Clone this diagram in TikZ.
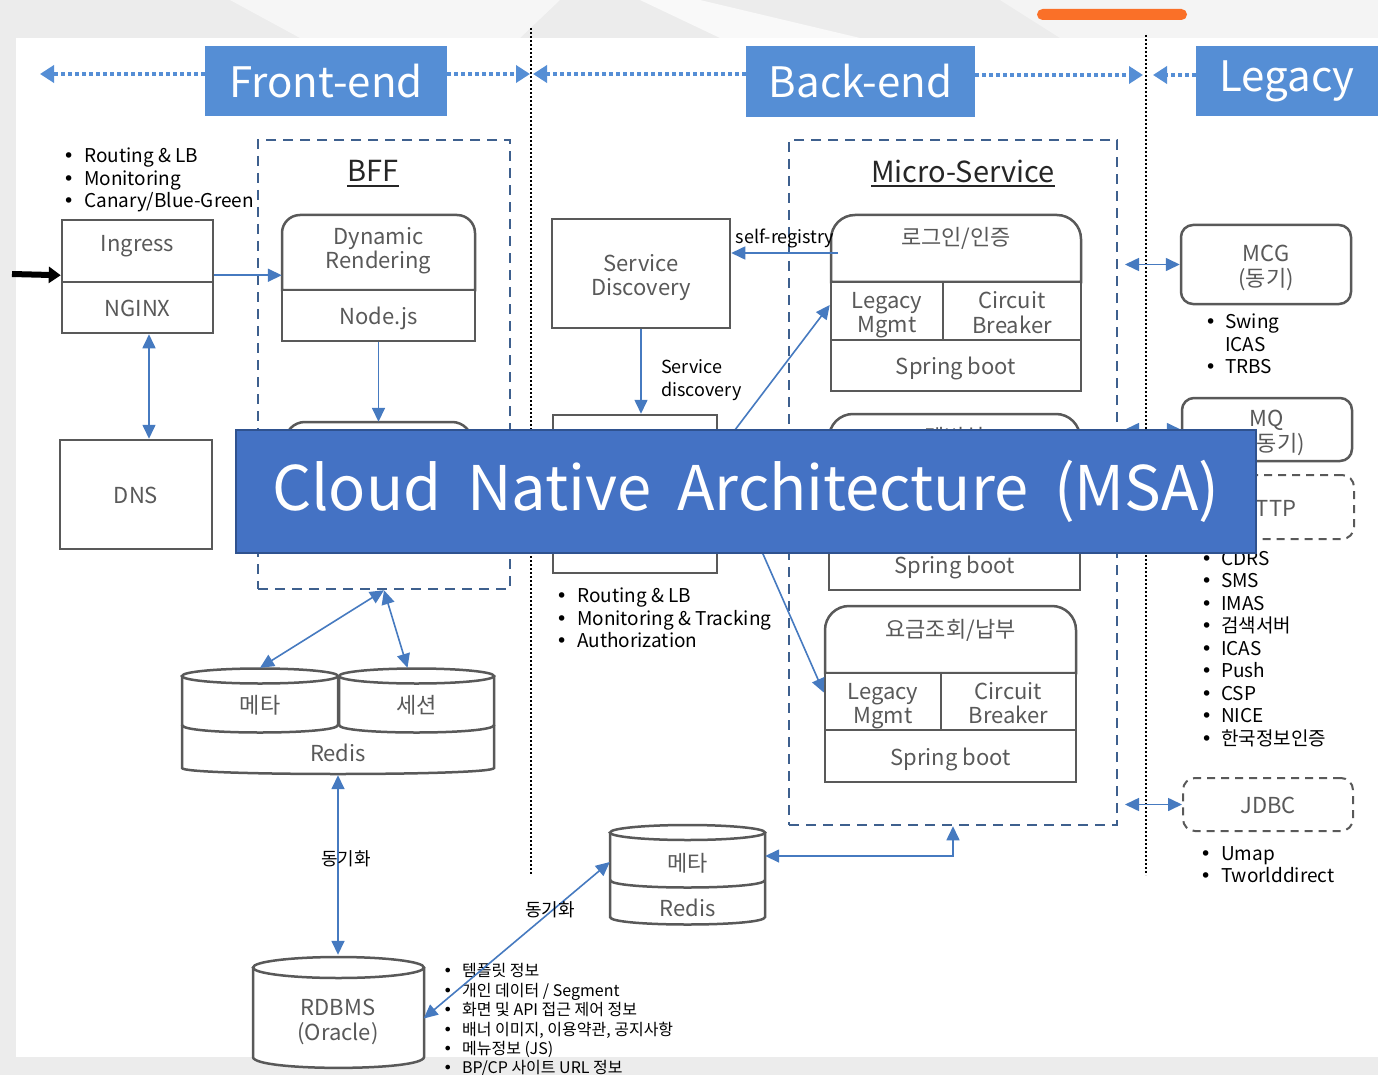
\documentclass[tikz,border=0pt]{standalone}
\usepackage{fontspec}
\setmainfont{Noto Sans CJK KR}
\newfontfamily\bulletfont{DejaVu Sans}
\usetikzlibrary{arrows.meta,calc}

\definecolor{hdrblue}{RGB}{85,142,213}
\definecolor{bannerblue}{RGB}{68,114,196}
\definecolor{bannerline}{RGB}{47,82,143}
\definecolor{linkblue}{RGB}{70,122,192}
\definecolor{dashblue}{RGB}{62,96,142}
\definecolor{boxgray}{RGB}{89,89,89}
\definecolor{txtgray}{RGB}{89,89,89}
\definecolor{titlegray}{RGB}{38,38,38}
\definecolor{orangebar}{RGB}{250,112,40}
\definecolor{slidebg}{RGB}{236,236,236}

\newcommand\fsBox{\fontsize{22pt}{24pt}\selectfont}
\newcommand\fsHead{\fontsize{42pt}{44pt}\selectfont}
\newcommand\fsBanner{\fontsize{61.5pt}{66pt}\selectfont\spaceskip=0.42em\relax}
\newcommand\fsTitle{\fontsize{29pt}{32pt}\selectfont}
\newcommand\fsNote{\fontsize{19pt}{22.5pt}\selectfont}
\newcommand\fsSmall{\fontsize{16pt}{19.4pt}\selectfont}
\newcommand\fsLbl{\fontsize{18pt}{23pt}\selectfont}
\newcommand\bul[1][16pt]{\makebox[#1][l]{{\bulletfont •}}}
% two centred lines, inked a little lower than their box
\newcommand\twoline[2]{\raisebox{-5pt}[\height][\depth]{\begin{tabular}{@{}c@{}}#1\\#2\end{tabular}}}

% box with rounded top corners: x1, ytop, x2, ybottom, radius
\newcommand\rtopbox[5]{%
  \draw[dline,fill=white] (#1,#4) -- (#1,{#2+#5})
    .. controls (#1,{#2+0.448*#5}) and ({#1+0.448*#5},#2) .. ({#1+#5},#2)
    -- ({#3-#5},#2)
    .. controls ({#3-0.448*#5},#2) and (#3,{#2+0.448*#5}) .. (#3,{#2+#5})
    -- (#3,#4) -- cycle;}

\begin{document}
\begin{tikzpicture}[x=1pt,y=-1pt,
  dline/.style={draw=boxgray,line width=2.5pt},
  dbox/.style={draw=boxgray,line width=2.5pt,fill=white,text=txtgray,font=\fsBox,align=center,inner sep=0pt},
  dregion/.style={text=txtgray,font=\fsBox,align=center,inner sep=0pt},
  dsingle/.style={text height=23pt,text depth=5pt},
  dsvctitle/.style={text height=20pt,text depth=25pt},
  dlbox/.style={dbox,rounded corners=12pt},
  ddbox/.style={dbox,rounded corners=12pt,line width=2pt,dash pattern=on 8pt off 6pt},
  dcont/.style={draw=dashblue,line width=2.5pt,dash pattern=on 10pt off 7pt,inner sep=0pt},
  dhead/.style={fill=hdrblue,text=white,font=\fsHead,inner sep=0pt},
  dhdrarrow/.style={draw=hdrblue,line width=4pt,dash pattern=on 4pt off 3pt,-{Triangle[length=14pt,width=17pt]}},
  dsep/.style={draw=black,line width=2pt,dash pattern=on 2pt off 2pt},
  dlink/.style={draw=linkblue,line width=1.6pt,-{Triangle[length=14pt,width=13pt]}},
  dlink2/.style={draw=linkblue,line width=1.6pt,{Triangle[length=14pt,width=13pt]}-{Triangle[length=14pt,width=13pt]}},
  dnote/.style={font=\fsNote,text=black,align=left,inner sep=0pt,anchor=north west},
  dsmall/.style={font=\fsSmall,text=black,align=left,inner sep=0pt,anchor=north west},
  dlbl/.style={font=\fsLbl,text=black,inner sep=0pt},
  dttl/.style={font=\fsTitle,text=titlegray,inner sep=0pt},
  dul/.style={draw=titlegray,line width=1.8pt},
  dbanner/.style={fill=bannerblue,draw=bannerline,line width=2pt,text=white,font=\fsBanner,inner sep=0pt}
]
\useasboundingbox (0,0) rectangle (1378,1075);

% slide background
\fill[slidebg] (0,0) rectangle (1378,1075);
\fill[white!55!slidebg] (230,0) -- (560,0) -- (520,38) -- (300,38) -- cycle;
\fill[white!70!slidebg] (640,0) -- (700,0) -- (860,38) -- (720,38) -- cycle;
\fill[white!40!slidebg] (1000,0) -- (1378,0) -- (1378,38) -- (1060,38) -- cycle;
\fill[white] (16,38) rectangle (1378,1057);
\fill[orangebar,rounded corners=5.5pt] (1037,9) rectangle (1187,20);

% column headers
\node[dhead,minimum width=242pt,minimum height=70pt] (front) at (326,81) {Front-end};
\node[dhead,minimum width=229pt,minimum height=71pt] (back) at (860.5,81.5) {Back-end};
\node[dhead,minimum width=182pt,minimum height=70pt] (legacy) at (1287,81) {Legacy};
\coordinate (hL) at (40,74);
\coordinate (hM1) at (530,74);
\coordinate (hM2) at (533,74);
\coordinate (hR1) at (1143,75);
\coordinate (hR2) at (1153,75);
\draw[dhdrarrow] (front.west |- hL) -- (hL);
\draw[dhdrarrow] (front.east |- hM1) -- (hM1);
\draw[dhdrarrow] (back.west |- hM2) -- (hM2);
\draw[dhdrarrow] (back.east |- hR1) -- (hR1);
\draw[dhdrarrow] (legacy.west |- hR2) -- (hR2);

% column separators
\coordinate (sA1) at (531,28);
\coordinate (sA2) at (531,875);
\coordinate (sB1) at (1146,35);
\coordinate (sB2) at (1146,875);
\draw[dsep] (sA1) -- (sA2);
\draw[dsep] (sB1) -- (sB2);

% ---- front-end: ingress, DNS ----
\node[dnote] (edgenotes) at (63,148) {\bul[21pt]Routing \& LB\\\bul[21pt]Monitoring\\\bul[21pt]Canary/Blue-Green};
\node[dbox,minimum width=151pt,minimum height=62pt,text height=16pt,text depth=14pt] (ingress) at (137.5,251) {Ingress};
\node[dbox,dsingle,minimum width=151pt,minimum height=51pt] (nginx) at (137.5,307.5) {NGINX};
\node[dbox,dsingle,minimum width=152pt,minimum height=109pt] (dns) at (136,494.5) {DNS};
\coordinate (entry) at (12,274);
\draw[draw=black,line width=6pt,-{Triangle[length=12pt,width=16pt]}] (entry) -- ([yshift=8pt]ingress.south west);
\draw[dlink2] ([xshift=11.5pt]nginx.south) -- ([xshift=13pt]dns.north);

% ---- BFF ----
\node[dcont,minimum width=252pt,minimum height=449pt] (bff) at (384,364.5) {};
\node[dttl] (bfft) at (373,171) {BFF};
\draw[dul] ([yshift=-4pt]bfft.base west) -- ([yshift=-4pt]bfft.base east);
\rtopbox{282}{215}{475}{290}{18}
\node[dregion,minimum width=193pt,minimum height=75pt] (dynt) at (378.5,246.5) {\twoline{Dynamic}{Rendering}};
\node[dbox,dsingle,minimum width=193pt,minimum height=51pt] (nodejs) at (378.5,315.5) {Node.js};
\rtopbox{285}{422}{472}{545}{20}
\node[dregion,minimum width=187pt,minimum height=123pt] (bffsvc) at (378.5,483.5) {};
\coordinate (ing) at ([yshift=8pt]ingress.south east);
\draw[dlink] (ing) -- (ing -| dynt.west);
\draw[dlink] (nodejs.south) -- (bffsvc.north);

% ---- cache in front of the BFF ----
\draw[dline,fill=white] (182,725) -- (182,768) .. controls (182,776) and (494,776) .. (494,768) -- (494,725);
\draw[dline,fill=white] (182,676) -- (182,725) .. controls (182,735) and (338,735) .. (338,725) -- (338,676);
\draw[dline,fill=white] (260,676) ellipse [x radius=78pt,y radius=7.5pt];
\draw[dline,fill=white] (339,676) -- (339,725) .. controls (339,735) and (494,735) .. (494,725) -- (494,676);
\draw[dline,fill=white] (416.5,676) ellipse [x radius=77.5pt,y radius=7.5pt];
\node[dregion,dsingle,minimum width=156pt,minimum height=56pt] (meta) at (260,704) {메타};
\node[dregion,dsingle,minimum width=155pt,minimum height=56pt] (session) at (416.5,704) {세션};
\node[dregion,dsingle,minimum width=312pt,minimum height=46pt] (redis) at (338,752) {Redis};
\draw[dlink2] ([yshift=8pt]meta.north) -- (bff.south);
\draw[dlink2] ([xshift=-9pt,yshift=8pt]session.north) -- (bff.south);

% ---- database ----
\draw[dline,fill=white] (253,967.5) -- (253,1057) .. controls (253,1071.5) and (424,1071.5) .. (424,1057) -- (424,967.5);
\draw[dline,fill=white] (338.5,967.5) ellipse [x radius=85.5pt,y radius=10.5pt];
\node[dregion,minimum width=171pt,minimum height=100pt] (rdbms) at (338,1018.5) {\twoline{RDBMS}{(Oracle)}};
\draw[dlink2] (redis.south) -- ([yshift=13.5pt]rdbms.north);
\node[dlbl] (sync1) at (346,858.5) {동기화};
\node[dsmall] (dbnotes) at (443,963.5) {\bul[19pt]템플릿 정보\\\bul[19pt]개인 데이터 / Segment\\\bul[19pt]화면 및 API 접근 제어 정보\\\bul[19pt]배너 이미지, 이용약관, 공지사항\\\bul[19pt]메뉴정보 (JS)\\\bul[19pt]BP/CP 사이트 URL 정보};

% ---- back-end: discovery and gateway ----
\node[dbox,minimum width=178pt,minimum height=109pt] (sd) at (641,273.5) {\twoline{Service}{Discovery}};
\node[dbox,minimum width=164pt,minimum height=158pt] (gw) at (635,494) {};
\node[dnote] (gwnotes) at (556,588) {\bul[21pt]Routing \& LB\\\bul[21pt]Monitoring \& Tracking\\\bul[21pt]Authorization};
\draw[dlink] (sd.south) -- (sd.south |- gw.north);
\node[dlbl,align=left,anchor=west] (sdl) at (661,380.5) {Service\\discovery};

% ---- micro-services ----
\node[dcont,minimum width=328pt,minimum height=685pt] (ms) at (953,482.5) {};
\node[dttl] (mst) at (963,171) {Micro-Service};
\draw[dul] ([yshift=-4pt]mst.base west) -- ([yshift=-4pt]mst.base east);

\rtopbox{831}{215}{1081}{282}{24}
\node[dregion,dsvctitle,minimum width=250pt,minimum height=67pt] (login) at (956,248.5) {로그인/인증};
\node[dbox,minimum width=112pt,minimum height=58pt] (loginlm) at (887,311) {\twoline{Legacy}{Mgmt}};
\node[dbox,minimum width=138pt,minimum height=58pt] (logincb) at (1012,311) {\twoline{Circuit}{Breaker}};
\node[dbox,dsingle,minimum width=250pt,minimum height=51pt] (loginsb) at (956,365.5) {Spring boot};

\rtopbox{829}{414}{1080}{481}{24}
\node[dregion,dsvctitle,minimum width=251pt,minimum height=67pt] (member) at (954.5,447.5) {멤버십};
\node[dbox,minimum width=112pt,minimum height=58pt] (memberlm) at (885,510) {};
\node[dbox,minimum width=139pt,minimum height=58pt] (membercb) at (1010.5,510) {};
\node[dbox,dsingle,minimum width=251pt,minimum height=51pt] (membersb) at (954.5,564.5) {Spring boot};

\rtopbox{825}{606}{1076}{673}{24}
\node[dregion,dsvctitle,minimum width=251pt,minimum height=67pt] (fee) at (950.5,639.5) {요금조회/납부};
\node[dbox,minimum width=116pt,minimum height=57pt] (feelm) at (883,701.5) {\twoline{Legacy}{Mgmt}};
\node[dbox,minimum width=135pt,minimum height=57pt] (feecb) at (1008.5,701.5) {\twoline{Circuit}{Breaker}};
\node[dbox,dsingle,minimum width=251pt,minimum height=52pt] (feesb) at (950.5,756) {Spring boot};

\coordinate (regsrc) at (838,253);
\draw[dlink] (regsrc) -- (regsrc -| sd.east);
\node[dlbl] (regl) at (785,238) {self-registry};
\coordinate (gwout) at ([yshift=42pt]gw.east);
\draw[dlink] (gwout) -- ([yshift=6pt]loginlm.west);
\draw[dlink] (gwout) -- ([yshift=9pt]feelm.west);

% ---- cache behind the micro-services ----
\draw[dline,fill=white] (610,832.5) -- (610,917) .. controls (610,927) and (765,927) .. (765,917) -- (765,832.5);
\draw[dline] (610,880) .. controls (610,890) and (765,890) .. (765,880);
\draw[dline,fill=white] (687.5,832.5) ellipse [x radius=77.5pt,y radius=7.5pt];
\node[dregion,dsingle,minimum width=155pt,minimum height=48pt] (meta2) at (687.5,862) {메타};
\node[dregion,dsingle,minimum width=155pt,minimum height=30pt] (redis2) at (687.5,907) {Redis};
\draw[dlink2] (ms.south) |- ([yshift=6pt]meta2.east);
\draw[dlink2] (rdbms.east) -- (meta2.west);
\node[dlbl] (sync2) at (550,909.5) {동기화};

% ---- legacy systems ----
\node[dlbox,minimum width=170pt,minimum height=79pt] (mcg) at (1266,264.5) {\twoline{MCG}{(동기)}};
\node[dnote] (mcgnotes) at (1205,314) {\bul[20pt]Swing\\\hspace*{20pt}ICAS\\\bul[20pt]TRBS};
\node[dlbox,minimum width=170pt,minimum height=63pt] (mq) at (1267,429.5) {\twoline{MQ}{(비동기)}};
\node[ddbox,dsingle,minimum width=172pt,minimum height=64pt] (http) at (1268,507) {HTTP};
\node[dnote] (httpnotes) at (1201,551) {\bul[20pt]CDRS\\\bul[20pt]SMS\\\bul[20pt]IMAS\\\bul[20pt]검색서버\\\bul[20pt]ICAS\\\bul[20pt]Push\\\bul[20pt]CSP\\\bul[20pt]NICE\\\bul[20pt]한국정보인증};
\node[ddbox,dsingle,minimum width=170pt,minimum height=53pt] (jdbc) at (1268,804.5) {JDBC};
\node[dnote] (jdbcnotes) at (1200,846) {\bul[21pt]Umap\\\bul[21pt]Tworlddirect};
\coordinate (lg) at (1125,0);
\draw[dlink2] (mcg.west -| lg) -- (mcg.west);
\draw[dlink2] (mq.west -| lg) -- (mq.west);
\draw[dlink2] (jdbc.west -| lg) -- (jdbc.west);

% ---- title banner ----
\node[dbanner,minimum width=1020pt,minimum height=123pt] (banner) at (746,491.5) {Cloud Native Architecture (MSA)};
\end{tikzpicture}
\end{document}
